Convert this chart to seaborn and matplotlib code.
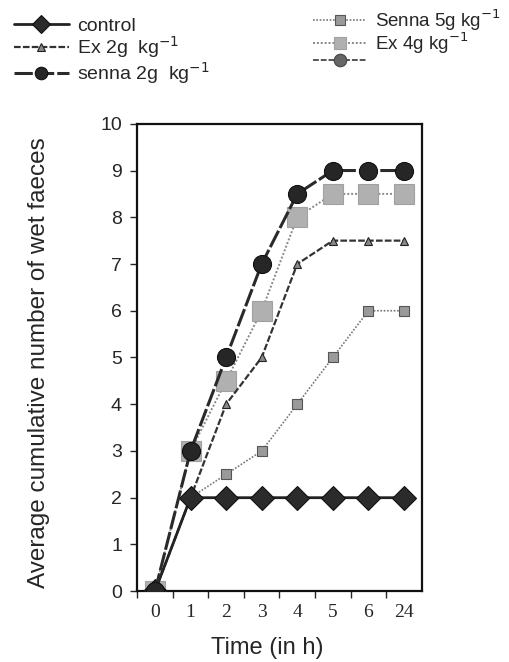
import numpy as np
import pandas as pd
import matplotlib
matplotlib.use('Agg')
import matplotlib.pyplot as plt
import seaborn as sns

# data
times = ['0', '1', '2', '3', '4', '5', '6', '24']
control = [0, 2, 2, 2, 2, 2, 2, 2]
ex_2g = [0, 2, 4, 5, 7, 7.5, 7.5, 7.5]
senna_2g = [0, 3, 5, 7, 8.5, 9, 9, 9]
senna_5g = [0, 2, 2.5, 3, 4, 5, 6, 6]
ex_4g = [0, 3, 4.5, 6, 8, 8.5, 8.5, 8.5]
unlabeled = [0, np.nan, np.nan, np.nan, np.nan, np.nan, np.nan, np.nan]

series_names = ['control', 'Ex 2g  kg$^{-1}$', 'senna 2g  kg$^{-1}$',
                'Senna 5g kg$^{-1}$', 'Ex 4g kg$^{-1}$', ' ']
series_vals = [control, ex_2g, senna_2g, senna_5g, ex_4g, unlabeled]

rows = []
for name, vals in zip(series_names, series_vals):
    for i, v in enumerate(vals):
        rows.append({'series': name, 'pos': i, 'value': v})
df = pd.DataFrame(rows)

sns.set_style('ticks')
plt.rcParams['font.family'] = ['Liberation Sans', 'DejaVu Sans']

# per-series look: (line style, linewidth, line color, marker, size, face, edge, zorder)
looks = {
    series_names[0]: ('-', 2.0, '#222222', 'D', 12, '#2b2b2b', '#111111', 5),
    series_names[1]: ((0, (3, 1)), 1.6, '#333333', '^', 6, '#888888', '#222222', 4),
    series_names[2]: ((0, (6, 1)), 2.2, '#2a2a2a', 'o', 13, '#262626', '#111111', 6),
    series_names[3]: ((0, (1, 1)), 1.2, '#777777', 's', 6.5, '#9a9a9a', '#555555', 3),
    series_names[4]: ((0, (1, 1)), 1.4, '#888888', 's', 15, '#b0b0b0', '#a0a0a0', 2),
    series_names[5]: ((0, (3, 1)), 1.4, '#555555', 'o', 9, '#666666', '#444444', 1),
}

fig = plt.figure(figsize=(5.1, 6.62), dpi=100)
ax = fig.add_axes([0.269, 0.107, 0.558, 0.706])

handles = {}
for name in series_names:
    ls, lw, lc, mk, ms, mf, me, z = looks[name]
    sub = df[df['series'] == name]
    sns.lineplot(data=sub, x='pos', y='value', ax=ax, color=lc, linewidth=lw,
                 linestyle=ls, marker=mk, markersize=ms, markerfacecolor=mf,
                 markeredgecolor=me, markeredgewidth=0.8, legend=False,
                 zorder=z)
    handles[name] = ax.lines[-1]

ax.set_xlim(-0.5, 7.5)
ax.set_ylim(0, 10)
ax.set_yticks(range(0, 11))
ax.set_xticks(np.arange(-0.5, 7.5, 1))
ax.set_xticklabels([])
ax.set_xticks(range(len(times)), minor=True)
ax.set_xticklabels(times, minor=True, family='Liberation Serif', fontsize=14)
ax.tick_params(axis='x', which='minor', length=0, pad=9)
ax.tick_params(axis='x', which='major', length=5, width=1, direction='out')
ax.tick_params(axis='y', labelsize=14, length=5, width=1, direction='out', pad=6)
for s in ax.spines.values():
    s.set_visible(True)
    s.set_linewidth(1.6)
    s.set_color('#111111')

ax.set_xlabel('Time (in h)', fontsize=17)
ax.xaxis.set_label_coords(0.458, -0.098)
ax.set_ylabel('Average cumulative number of wet faeces', fontsize=17.5)
ax.yaxis.set_label_coords(-0.305, 0.49)

left = series_names[:3]
right = series_names[3:]
leg1 = fig.legend([handles[n] for n in left], left, loc='upper left',
                  bbox_to_anchor=(0.02, 0.98), frameon=False, fontsize=14,
                  handlelength=2.8, labelspacing=-0.02, handletextpad=0.45,
                  borderaxespad=0, borderpad=0.2)
leg2 = fig.legend([handles[n] for n in right], right, loc='upper left',
                  bbox_to_anchor=(0.607, 0.995), frameon=False, fontsize=13.5,
                  handlelength=2.8, labelspacing=-0.12, handletextpad=0.5,
                  borderaxespad=0, borderpad=0.2)
for leg in (leg1, leg2):
    for h in leg.legend_handles:
        h.set_markersize(min(h.get_markersize(), 9))

fig.savefig('out.png', dpi=100)
